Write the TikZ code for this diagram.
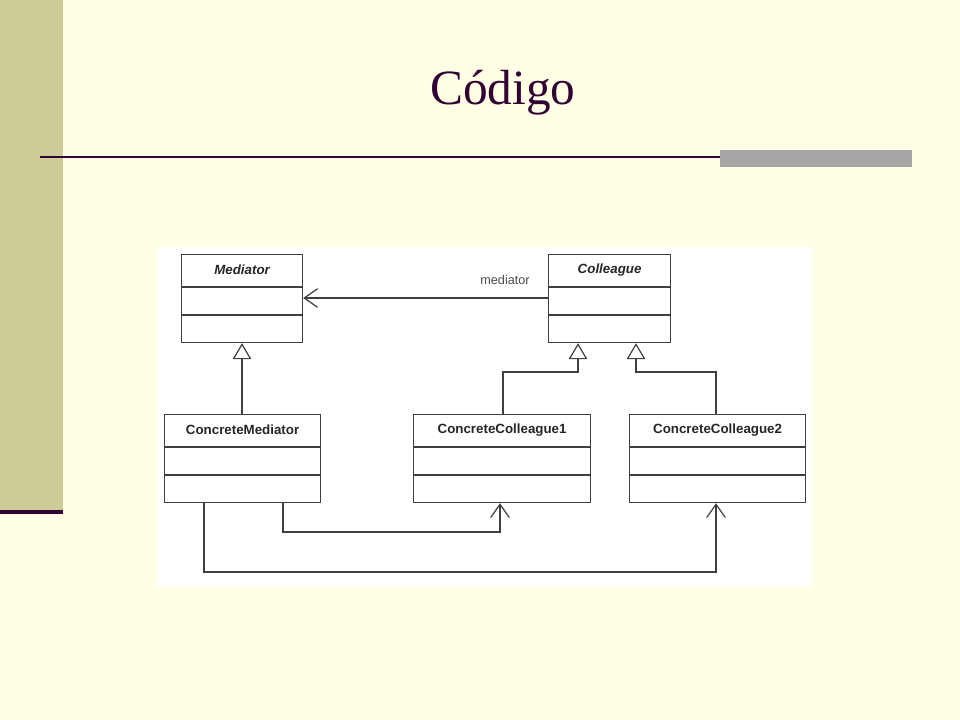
\documentclass[tikz,border=0pt]{standalone}
\usepackage{fontspec}
\setmainfont{Liberation Serif}
\setsansfont{Liberation Sans}
\usetikzlibrary{calc,arrows.meta}
\definecolor{slidebg}{HTML}{FFFFE5}
\definecolor{sidebar}{HTML}{CCCC99}
\definecolor{titlecol}{HTML}{330033}
\definecolor{umlline}{HTML}{404040}
\begin{document}
\begin{tikzpicture}[x=0.75pt,y=-0.75pt,
    umlclass/.style={draw=umlline,fill=white,anchor=north west,inner sep=0pt,line width=0.9pt},
    umlname/.style={font=\sffamily\bfseries\fontsize{10}{12}\selectfont,text=black!85},
    inherit/.style={draw=umlline,line width=0.9pt,-{Triangle[open,width=14pt,length=12pt]}},
    assoc/.style={draw=umlline,line width=0.9pt,-{Straight Barb[width=14pt,length=10pt]}}]
  \useasboundingbox (0,0) rectangle (960,720);
  \fill[slidebg] (0,0) rectangle (960,720);
  \fill[sidebar] (0,0) rectangle (63,512);
  \draw[titlecol,line width=3pt] (0,512) -- (63,512);
  \node[text=titlecol,font=\fontsize{37}{40}\selectfont] (title) at (503,93) {Código};
  \draw[titlecol,line width=1.5pt] (40,157) -- (912,157);
  \fill[black!35] (720,150) rectangle (912,167);
  \fill[white] (157,247) rectangle (812,587);
  % classes
  \newcommand{\umlbox}[6]{%
    \node[umlclass,minimum width=0.75pt*#4,minimum height=66pt] (#1) at (#2,#3) {};
    \draw[umlline,line width=0.9pt] ($(#1.north west)+(0,33)$) -- ($(#1.north east)+(0,33)$)
      ($(#1.north west)+(0,61)$) -- ($(#1.north east)+(0,61)$);
    \node[umlname] at ($(#1.north)+(0,16)$) {#5#6};}
  \umlbox{med}{181}{254}{121}{\itshape}{Mediator}
  \umlbox{col}{548}{254}{122}{\itshape}{Colleague}
  \umlbox{cmed}{164}{414}{156}{}{ConcreteMediator}
  \umlbox{cc1}{413}{414}{177}{}{ConcreteColleague1}
  \umlbox{cc2}{629}{414}{176}{}{ConcreteColleague2}
  % association
  \draw[assoc] (col.west |- 0,298) -- (med.east |- 0,298);
  \node[font=\sffamily\fontsize{9.5}{11}\selectfont,text=black!70] (lbl) at (505,280) {mediator};
  % generalisation
  \draw[inherit] (cmed.north -| 242,0) -- (med.south -| 242,0);
  \draw[inherit] (cc1.north -| 503,0) |- (578,372) -- (col.south -| 578,0);
  \draw[inherit] (cc2.north -| 716,0) |- (636,372) -- (col.south -| 636,0);
  % dependencies
  \draw[assoc] (cmed.south -| 283,0) |- (500,532) -- (cc1.south -| 500,0);
  \draw[assoc] (cmed.south -| 204,0) |- (716,572) -- (cc2.south -| 716,0);
\end{tikzpicture}
\end{document}
